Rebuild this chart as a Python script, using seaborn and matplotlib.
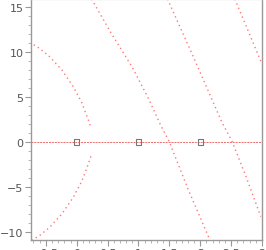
import matplotlib
matplotlib.use("Agg")
import matplotlib.pyplot as plt
import seaborn as sns
import pandas as pd
from matplotlib.ticker import MultipleLocator

# Branch readings (x, y) from the reference
left_upper_x = [-0.76, -0.60, -0.44, -0.24, -0.06, 0.08, 0.18, 0.23]
left_upper_y = [11.1, 10.4, 9.5, 8.0, 6.2, 4.4, 2.6, 1.6]
left_lower_x = [0.23, 0.18, 0.08, -0.06, -0.24, -0.44, -0.60, -0.74]
left_lower_y = [-1.6, -2.6, -4.4, -6.2, -8.0, -9.5, -10.4, -11.0]
curve_a_x = [0.24, 0.55, 0.90, 1.15, 1.35, 1.50, 1.80, 2.15]
curve_a_y = [15.9, 12.2, 8.3, 5.0, 2.0, 0.0, -5.2, -10.8]
curve_b_x = [1.47, 1.90, 2.35, 2.52, 2.75, 2.98]
curve_b_y = [15.9, 9.3, 2.2, 0.0, -4.0, -8.3]
curve_c_x = [2.56, 2.98]
curve_c_y = [15.9, 9.0]
pole_x = [0, 1, 2]
pole_y = [0, 0, 0]
xticks = [-0.5, 0, 0.5, 1, 1.5, 2, 2.5, 3]
xticklabels = ["\u22120.5", "0", "0.5", "1", "1.5", "2", "2.5", "3"]
yticks = [-10, -5, 0, 5, 10, 15]
yticklabels = ["\u221210", "\u22125", "0", "5", "10", "15"]

sns.set_style("white")
plt.rcParams['font.family'] = ['DejaVu Sans']

fig = plt.figure(figsize=(2.66, 2.51), dpi=100)
ax = fig.add_axes([31/266, 10/251, 231/266, 241/251])

red = "#ff4a4a"
dot = (0, (1, 2.4))
for cx, cy in [(left_upper_x, left_upper_y), (left_lower_x, left_lower_y),
               (curve_a_x, curve_a_y), (curve_b_x, curve_b_y),
               (curve_c_x, curve_c_y)]:
    df = pd.DataFrame({"x": cx, "y": cy})
    sns.lineplot(data=df, x="x", y="y", sort=False, ax=ax, color=red,
                 linewidth=1.0, linestyle=dot, alpha=0.75)

ax.axhline(0, color="#e83a3a", linewidth=0.7, linestyle=(0, (2, 1)), alpha=0.75)

pdf = pd.DataFrame({"x": pole_x, "y": pole_y})
sns.scatterplot(data=pdf, x="x", y="y", ax=ax, marker="s", s=14,
                facecolor="none", edgecolor="#777777", linewidth=0.8, zorder=5)

ax.set_xlim(-0.74, 3.0)
ax.set_ylim(-10.9, 15.9)
ax.set_xticks(xticks)
ax.set_xticklabels(xticklabels)
ax.set_yticks(yticks)
ax.set_yticklabels(yticklabels)
ax.xaxis.set_minor_locator(MultipleLocator(0.1))
ax.yaxis.set_minor_locator(MultipleLocator(1))
ax.set_xlabel("")
ax.set_ylabel("")

for s in ["left", "bottom", "right"]:
    ax.spines[s].set_color("#999999")
    ax.spines[s].set_linewidth(1.0)
ax.spines["top"].set_color("#dddddd")
ax.spines["top"].set_linewidth(1.0)

ax.tick_params(axis="both", which="major", direction="out", length=4,
               width=0.8, color="#999999", labelcolor="#555555",
               labelsize=8, pad=1.5, bottom=True, left=True)
ax.tick_params(axis="both", which="minor", direction="out", length=2,
               width=0.6, color="#aaaaaa", bottom=True, left=True)

fig.savefig("out.png", dpi=100)
